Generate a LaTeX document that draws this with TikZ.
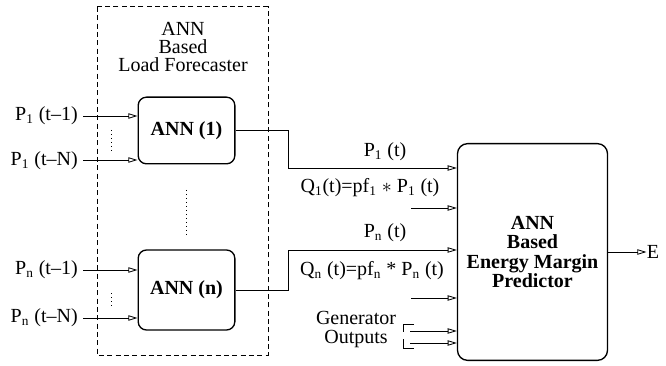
\documentclass[tikz,border=0pt]{standalone}
\usepackage{fontspec}
\setmainfont{Liberation Serif}
\usetikzlibrary{arrows.meta}

\tikzset{
  annbox/.style={draw, rounded corners=5pt, line width=0.8pt, minimum width=58pt, font=\bfseries\fontsize{12}{12}\selectfont},
  feed/.style={-{Triangle[open,length=5.5pt,width=3.2pt]}, line width=0.5pt},
  lbl/.style={font=\fontsize{12}{11}\selectfont, inner sep=0pt},
  dots/.style={line width=0.6pt, dash pattern=on 0.6pt off 1.8pt}
}

\begin{document}
\begin{tikzpicture}[x=0.6pt, y=-0.6pt]
\useasboundingbox (0,0) rectangle (666,366);

\draw[line width=0.6pt, dash pattern=on 3pt off 2pt] (97,7) rectangle (268,355);
\node[lbl, align=center] (title) at (183,47) {ANN\\Based\\Load Forecaster};

\node[annbox, minimum height=40pt] (ann1) at (186.5,130.5) {ANN (1)};
\node[annbox, minimum height=48pt] (annn) at (186.5,290) {ANN (n)};
\node[draw, rounded corners=6pt, line width=0.8pt, minimum width=90pt, minimum height=130pt,
      align=center, font=\bfseries\fontsize{12}{11.5}\selectfont] (pred) at (532.5,252)
      {ANN\\Based\\Energy Margin\\Predictor};

\coordinate (p11) at (83,116);
\coordinate (p1N) at (83,160);
\coordinate (pn1) at (83,270);
\coordinate (pnN) at (83,318);
\node[lbl, anchor=east] (lp11) at (78,116) {P\textsubscript{1} (t--1)};
\node[lbl, anchor=east] (lp1N) at (78,161) {P\textsubscript{1} (t--N)};
\node[lbl, anchor=east] (lpn1) at (78,270) {P\textsubscript{n} (t--1)};
\node[lbl, anchor=east] (lpnN) at (78,318) {P\textsubscript{n} (t--N)};
\draw[feed] (p11) -- (ann1.west |- p11);
\draw[feed] (p1N) -- (ann1.west |- p1N);
\draw[feed] (pn1) -- (annn.west |- pn1);
\draw[feed] (pnN) -- (annn.west |- pnN);

\draw[dots] (111,130) -- (111,153);
\draw[dots] (111,293) -- (111,308);
\draw[dots] (186,190) -- (186,236);

\coordinate (k1) at (288,168);
\coordinate (kn) at (288,250);
\draw[feed] (ann1.east) -| (k1) -- (pred.west |- k1);
\draw[feed] (annn.east) -| (kn) -- (pred.west |- kn);
\node[lbl] (lp1) at (385,152) {P\textsubscript{1} (t)};
\node[lbl] (lpn) at (385,233) {P\textsubscript{n} (t)};

\coordinate (q1) at (411,208);
\coordinate (qn) at (411,298);
\draw[feed] (q1) -- (pred.west |- q1);
\draw[feed] (qn) -- (pred.west |- qn);
\node[lbl] (lq1) at (370,188) {Q\textsubscript{1}(t)=pf\textsubscript{1} $*$ P\textsubscript{1} (t)};
\node[lbl] (lqn) at (372,271) {Q\textsubscript{n} (t)=pf\textsubscript{n} * P\textsubscript{n} (t)};

\node[lbl, align=center, font=\fontsize{12}{11.4}\selectfont] (gen) at (356,330) {Generator\\Outputs};
\draw[line width=0.5pt] (414,324) -- (403,324) -- (403,332);
\draw[line width=0.5pt] (403,339) -- (403,348) -- (414,348);
\coordinate (g1) at (410,331);
\coordinate (g2) at (410,343);
\draw[feed] (g1) -- (pred.west |- g1);
\draw[feed] (g2) -- (pred.west |- g2);

\node[lbl] (e) at (653,252) {E};
\draw[feed] (pred.east) -- (e.west);
\end{tikzpicture}
\end{document}
